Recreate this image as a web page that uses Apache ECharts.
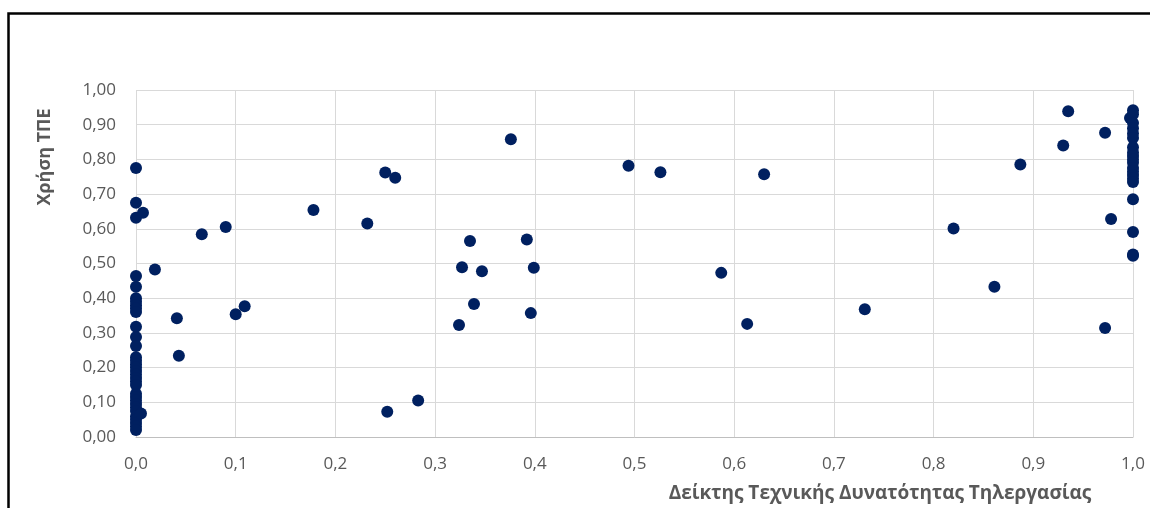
<!DOCTYPE html>
<html>
<head>
<meta charset="utf-8">
<script src="https://cdn.jsdelivr.net/npm/echarts@6/dist/echarts.min.js"></script>
<style>
  html, body { margin: 0; padding: 0; background: #fff; }
  #main { width: 1150px; height: 508px; }
</style>
</head>
<body>
<div id="main"></div>
<script>
// Δείκτης Τεχνικής Δυνατότητας Τηλεργασίας (x) / Χρήση ΤΠΕ (y)
var xTicks = [0, 0.1, 0.2, 0.3, 0.4, 0.5, 0.6, 0.7, 0.8, 0.9, 1.0];
var yTicks = [0, 0.1, 0.2, 0.3, 0.4, 0.5, 0.6, 0.7, 0.8, 0.9, 1.0];

// σημεία στη στήλη x = 0
var zeroColY = [0.775, 0.675, 0.632, 0.464, 0.433, 0.40, 0.39, 0.38, 0.37, 0.36,
  0.318, 0.288, 0.262, 0.23, 0.22, 0.21, 0.20, 0.19, 0.18, 0.17, 0.16, 0.15,
  0.125, 0.115, 0.105, 0.095, 0.085, 0.075, 0.06, 0.05, 0.04, 0.03, 0.02];

// σημεία στη στήλη x = 1
var oneColY = [0.942, 0.93, 0.905, 0.89, 0.875, 0.862, 0.835, 0.82, 0.81, 0.80,
  0.79, 0.775, 0.765, 0.755, 0.745, 0.735, 0.685, 0.591, 0.526, 0.522];

// υπόλοιπα σημεία
var restX = [0.007, 0.005, 0.019, 0.041, 0.043, 0.066, 0.090, 0.100, 0.109, 0.178,
  0.232, 0.250, 0.260, 0.252, 0.283, 0.324, 0.327, 0.335, 0.339, 0.347,
  0.376, 0.392, 0.396, 0.399, 0.494, 0.526, 0.587, 0.613, 0.630, 0.731,
  0.820, 0.861, 0.887, 0.930, 0.935, 0.972, 0.972, 0.978, 0.997];
var restY = [0.646, 0.068, 0.483, 0.342, 0.234, 0.584, 0.605, 0.354, 0.377, 0.654,
  0.615, 0.762, 0.747, 0.073, 0.105, 0.323, 0.489, 0.565, 0.383, 0.478,
  0.858, 0.569, 0.357, 0.488, 0.782, 0.763, 0.473, 0.326, 0.757, 0.368,
  0.601, 0.433, 0.785, 0.840, 0.939, 0.877, 0.314, 0.628, 0.919];

var points = [];
for (var i = 0; i < zeroColY.length; i++) points.push([0, zeroColY[i]]);
for (var j = 0; j < restX.length; j++) points.push([restX[j], restY[j]]);
for (var k = 0; k < oneColY.length; k++) points.push([1, oneColY[k]]);

var txtColor = '#595959';
var font = '"Open Sans", "DejaVu Sans", sans-serif';

var chart = echarts.init(document.getElementById('main'), null, { renderer: 'canvas' });
chart.setOption({
  backgroundColor: '#fff',
  animation: false,
  grid: { left: 136, right: 17, top: 90, bottom: 71, containLabel: false },
  xAxis: {
    type: 'value',
    min: xTicks[0],
    max: xTicks[xTicks.length - 1],
    interval: 0.1,
    axisLine: { show: true, lineStyle: { color: '#bfbfbf', width: 1 } },
    axisTick: { show: false },
    axisLabel: {
      color: txtColor, fontSize: 17, fontFamily: font, margin: 19,
      formatter: function (v) { return v.toFixed(1).replace('.', ','); }
    },
    splitLine: { show: true, lineStyle: { color: '#d9d9d9', width: 1 } }
  },
  yAxis: {
    type: 'value',
    min: yTicks[0],
    max: yTicks[yTicks.length - 1],
    interval: 0.1,
    axisLine: { show: false },
    axisTick: { show: false },
    axisLabel: {
      color: txtColor, fontSize: 17, fontFamily: font, margin: 20,
      formatter: function (v) { return v.toFixed(2).replace('.', ','); }
    },
    splitLine: { show: true, lineStyle: { color: '#d9d9d9', width: 1 } }
  },
  graphic: [
    {
      type: 'polyline',
      shape: { points: [[8.5, 508], [8.5, 13.5], [1150, 13.5]] },
      style: { stroke: '#000', lineWidth: 2.5, fill: null },
      silent: true
    },
    {
      type: 'text',
      x: 45, y: 157, rotation: Math.PI / 2,
      style: {
        text: 'Χρήση ΤΠΕ', fill: txtColor, fontFamily: font,
        fontSize: 18, fontWeight: 'bold', align: 'center', verticalAlign: 'middle'
      }
    },
    {
      type: 'text',
      x: 880, y: 494,
      style: {
        text: 'Δείκτης Τεχνικής Δυνατότητας Τηλεργασίας', fill: txtColor, fontFamily: font,
        fontSize: 19, fontWeight: 'bold', align: 'center', verticalAlign: 'middle'
      }
    }
  ],
  series: [{
    type: 'scatter',
    data: points,
    symbol: 'circle',
    symbolSize: 12,
    itemStyle: { color: '#002060', opacity: 1 }
  }]
});
</script>
</body>
</html>
